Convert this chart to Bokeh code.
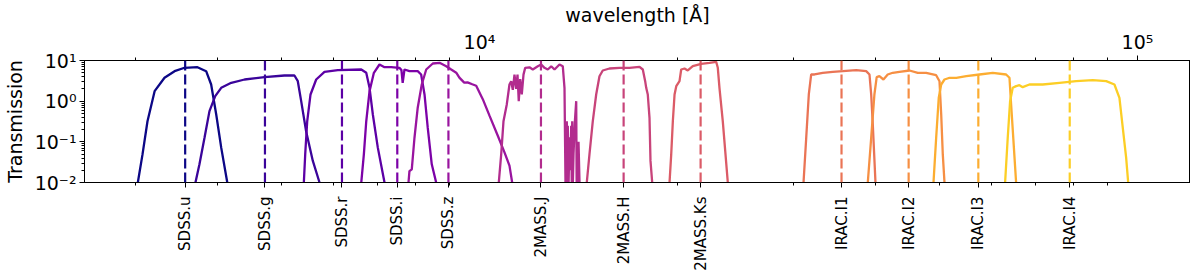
import math
from bokeh.plotting import figure
from bokeh.models import Range1d, LogAxis, FixedTicker, Span
from bokeh.palettes import Plasma256
from bokeh.embed import file_html
from bokeh.resources import INLINE

# ---------------- data (wavelength in Angstrom, transmission) ----------------
names = ["SDSS.u", "SDSS.g", "SDSS.r", "SDSS.i", "SDSS.z",
         "2MASS.J", "2MASS.H", "2MASS.Ks",
         "IRAC.I1", "IRAC.I2", "IRAC.I3", "IRAC.I4"]
centers = [3570, 4720, 6180, 7500, 8970, 12400, 16560, 21680,
           35500, 44900, 57300, 78900]

u_wl = [3025, 3075, 3129, 3208, 3321, 3440, 3562, 3727, 3842, 3910, 3980, 4050, 4137]
u_tr = [0.01, 0.049, 0.32, 1.76, 3.76, 5.46, 6.62, 6.84, 5.46, 2.57, 0.47, 0.072, 0.01]

g_wl = [3701, 3753, 3820, 3887, 3966, 4050, 4195, 4395, 4713, 5053, 5233, 5295, 5358, 5452, 5581, 5713]
g_tr = [0.01, 0.028, 0.126, 0.57, 1.33, 2.13, 2.83, 3.41, 3.89, 4.28, 4.28, 3.10, 1.0, 0.18, 0.034, 0.01]

r_wl = [5408, 5434, 5472, 5536, 5647, 5813, 6091, 6612, 6728, 6806, 6885, 7006, 7172]
r_tr = [0.01, 0.049, 0.32, 1.46, 3.41, 5.27, 5.78, 6.01, 4.99, 2.13, 0.47, 0.072, 0.01]

i_wl = [6612, 6672, 6728, 6806, 6910, 7047, 7172, 7340, 7556, 7610, 7643, 7691, 7826, 8056, 8153, 8250, 8344, 8462, 8593]
i_tr = [0.01, 0.049, 0.32, 1.76, 4.99, 7.97, 6.84, 6.84, 6.62, 5.8, 2.83, 6.01, 5.46, 5.46, 4.53, 1.46, 0.22, 0.028, 0.01]

z_wl = [7800, 7826, 7890, 7965, 8056, 8171, 8299, 8492, 8696, 8901, 9058, 9218, 9320, 9480, 9590, 9750, 9885,
        10116, 10356, 10662, 10914, 11106, 11212]
z_tr = [0.01, 0.019, 0.021, 0.126, 0.69, 2.57, 6.01, 8.44, 8.77, 7.24, 6.0, 5.0, 3.8, 2.85, 2.9, 2.6, 2.39,
        1.12, 0.44, 0.141, 0.055, 0.026, 0.01]

J_wl = [10699, 10789, 10876, 11002, 11106, 11173, 11236, 11303, 11370, 11423, 11473, 11531, 11595, 11665,
        11735, 11912, 12051, 12264, 12412, 12554, 12699, 12853, 13002, 13231, 13385, 13465, 13512, 13545,
        13574, 13600, 13621, 13660, 13703, 13740, 13785, 13810, 13833, 13865, 13897, 13960, 14028, 14050,
        14077, 14110, 14142, 14191]
J_tr = [0.01, 0.049, 0.32, 0.83, 2.57, 3.1, 1.9, 4.5, 2.0, 4.5, 1.0, 3.5, 1.46, 4.5,
        6.6, 6.8, 6.0, 7.2, 8.0, 6.6, 6.0, 7.2, 6.0, 8.0, 7.2, 2.1, 0.01, 0.2,
        0.32, 0.01, 0.25, 0.01, 0.13, 0.02, 0.25, 0.01, 0.32, 0.01, 0.05, 0.3, 1.0, 0.01,
        0.05, 0.01, 0.10, 0.01]

H_wl = [14557, 14694, 14865, 15044, 15218, 15394, 15760, 16321, 16904, 17507, 17710, 17857, 17922, 18021,
        18130, 18193, 18302]
H_tr = [0.01, 0.049, 0.32, 1.46, 4.11, 5.68, 6.36, 6.62, 6.62, 7.0, 6.01, 3.10, 2.13, 1.46,
        0.39, 0.034, 0.01]

Ks_wl = [19446, 19561, 19673, 19791, 19910, 20137, 20256, 20491, 20728, 21095, 21723, 22363, 22894, 23025,
         23159, 23431, 23654, 23845]
Ks_tr = [0.01, 0.049, 0.32, 1.46, 2.34, 3.10, 6.01, 6.36, 5.68, 7.24, 8.3, 8.77, 9.3, 6.62,
         2.13, 0.32, 0.049, 0.01]

I1_wl = [31080, 31375, 31660, 31925, 32295, 33245, 34430, 35660, 37370, 38700, 39150, 39385, 39605, 39980]
I1_tr = [0.01, 0.126, 1.46, 4.53, 4.53, 4.99, 5.27, 5.46, 5.78, 5.46, 4.53, 1.46, 0.27, 0.01]

I2_wl = [38920, 39385, 39830, 40150, 40530, 41110, 41730, 42470, 43480, 45030, 46360, 47740, 49440, 50020,
         50320, 50600, 50900]
I2_tr = [0.01, 0.126, 1.46, 3.89, 4.11, 3.41, 4.53, 4.99, 5.27, 5.68, 4.99, 4.99, 4.35, 3.10,
         0.47, 0.049, 0.01]

I3_wl = [48980, 49440, 49890, 50320, 50900, 51820, 53050, 54940, 57530, 60270, 63150, 63900, 64270, 64800, 65400]
I3_tr = [0.01, 0.126, 1.21, 2.57, 3.41, 3.76, 3.76, 4.11, 4.53, 4.99, 4.53, 3.76, 0.83, 0.104, 0.01]

I4_wl = [62930, 63510, 64040, 64630, 65400, 66160, 66930, 68520, 71790, 76130, 80680, 85530, 89650, 92260,
         93890, 95000, 96120, 96810]
I4_tr = [0.01, 0.126, 1.0, 2.13, 2.34, 2.47, 2.21, 2.57, 2.57, 2.83, 3.10, 3.28, 3.10, 2.57,
         1.21, 0.22, 0.041, 0.01]

y_ticks = [0.01, 0.1, 1, 10]
y_tick_labels = ["10\u207b\u00b2", "10\u207b\u00b9", "10\u2070", "10\u00b9"]
top_ticks = [10000, 100000]
top_tick_labels = ["10\u2074", "10\u2075"]

curves_wl = [u_wl, g_wl, r_wl, i_wl, z_wl, J_wl, H_wl, Ks_wl, I1_wl, I2_wl, I3_wl, I4_wl]
curves_tr = [u_tr, g_tr, r_tr, i_tr, z_tr, J_tr, H_tr, Ks_tr, I1_tr, I2_tr, I3_tr, I4_tr]

# ---------------- figure ----------------
FONT = "DejaVu Sans"
colors = [Plasma256[int(round(0.9 * k / 11 * 255))] for k in range(12)]

p = figure(frame_width=1106, frame_height=122,
           x_axis_type="log", y_axis_type="log", x_axis_location="above",
           x_range=Range1d(2510, 120400), y_range=Range1d(0.01, 10),
           output_backend="svg", toolbar_location=None,
           min_border_left=77, min_border_right=0, min_border_top=50, min_border_bottom=80)

p.xgrid.visible = False
p.ygrid.visible = False
p.outline_line_color = "black"
p.outline_line_width = 1
p.background_fill_color = "white"
p.border_fill_color = "white"

for k in range(12):
    p.line(curves_wl[k], curves_tr[k], line_color=colors[k], line_width=2.3)
    p.add_layout(Span(location=centers[k], dimension="height", line_color=colors[k],
                      line_width=2.2, line_dash="10 4"))

minor_x = [m * 10 ** e for e in (3, 4) for m in range(2, 10)]
minor_y = [m * 10.0 ** e for e in (-2, -1, 0) for m in range(2, 10)]


def style(ax, size):
    ax.axis_line_color = "black"
    ax.major_tick_line_color = "black"
    ax.minor_tick_line_color = "black"
    ax.major_tick_out = 5
    ax.major_tick_in = 0
    ax.minor_tick_out = 3
    ax.minor_tick_in = 0
    ax.major_label_text_font = FONT
    ax.major_label_text_font_size = size
    ax.major_label_text_color = "black"
    ax.axis_label_text_font = FONT
    ax.axis_label_text_font_size = "19px"
    ax.axis_label_text_font_style = "normal"
    ax.axis_label_text_color = "black"


# top axis
top = p.xaxis[0]
top.ticker = FixedTicker(ticks=top_ticks, minor_ticks=minor_x)
top.major_label_overrides = dict(zip(top_ticks, top_tick_labels))
top.axis_label = "wavelength [\u00c5]"
style(top, "19px")
top.major_label_standoff = 3
top.axis_label_standoff = 2

# left axis
left = p.yaxis[0]
left.ticker = FixedTicker(ticks=y_ticks, minor_ticks=minor_y)
left.major_label_overrides = dict(zip(y_ticks, y_tick_labels))
left.axis_label = "Transmission"
style(left, "19px")
left.major_label_standoff = 3
left.axis_label_standoff = 6

# bottom axis with filter names
bottom = LogAxis(ticker=FixedTicker(ticks=centers, minor_ticks=minor_x))
bottom.major_label_overrides = dict(zip(centers, names))
bottom.major_label_orientation = math.pi / 2
style(bottom, "15px")
bottom.major_label_standoff = 9
bottom.axis_label_standoff = 0
p.add_layout(bottom, "below")

open("out.html", "w").write(file_html(p, INLINE))
